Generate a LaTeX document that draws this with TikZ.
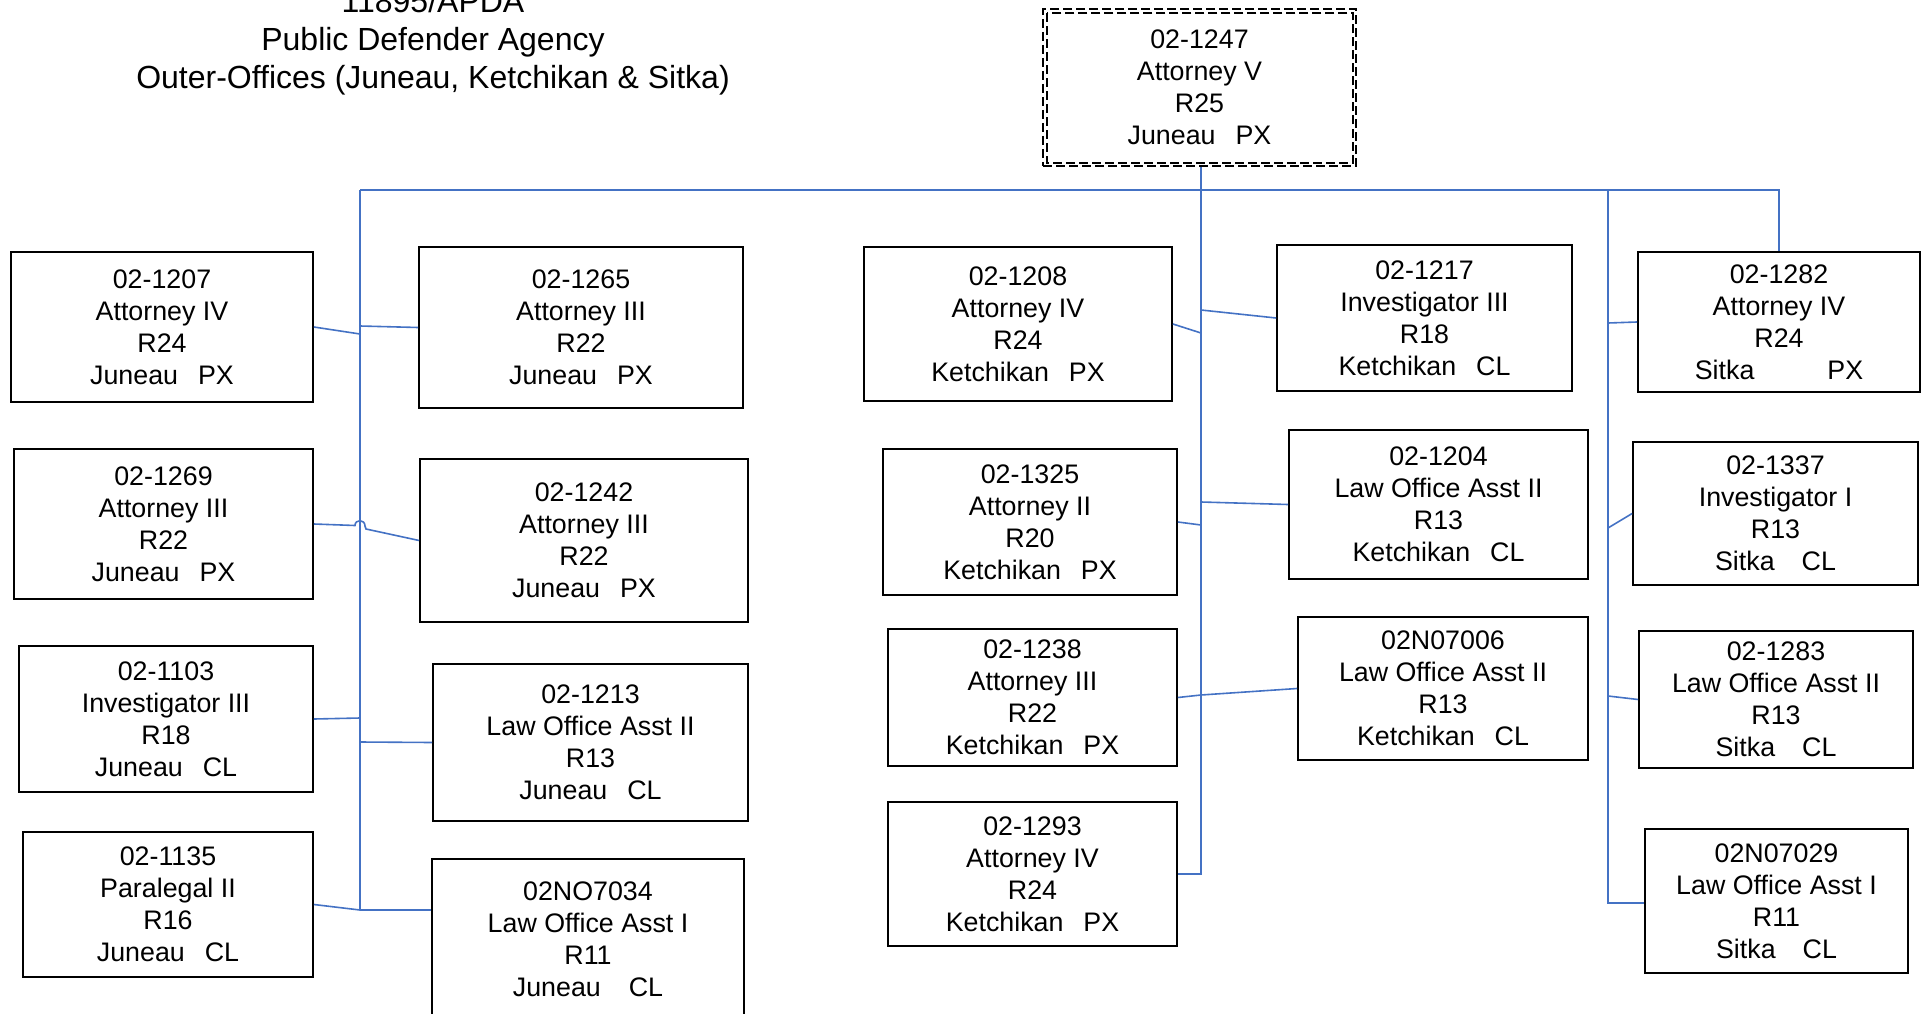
\documentclass[tikz,border=0pt]{standalone}
\usepackage{fontspec}
\setmainfont{Liberation Sans}
\definecolor{connblue}{HTML}{4472C4}
\tikzset{
  box/.style={draw=black, line width=1.8pt, inner sep=0pt, align=center, font=\fontsize{26.8}{32}\selectfont},
  topbox/.style={draw=black, dash pattern=on 9pt off 4pt, line width=1.8pt, inner sep=0pt, align=center, font=\fontsize{26.8}{32}\selectfont},
  conn/.style={draw=connblue, line width=1.6pt},
  ttl/.style={anchor=base, inner sep=0pt, font=\fontsize{32}{38}\selectfont}
}
\newcommand\gp{\hspace{20pt}}
\begin{document}
\begin{tikzpicture}[x=1pt,y=-1pt]
\useasboundingbox (0,0) rectangle (1927,1014);
\begin{scope}
\clip (0,0) rectangle (1927,1014);
% title
\node[ttl] (t1) at (433,13) {11895/APDA};
\node[ttl] (t2) at (433,51) {Public Defender Agency};
\node[ttl] (t3) at (433,89) {Outer-Offices (Juneau, Ketchikan \& Sitka)};
% top box
\node[topbox, minimum width=313pt, minimum height=157pt] (top) at (1199.5,87.5) {02-1247\\Attorney V\\R25\\Juneau\gp PX};
\draw[black, dash pattern=on 9pt off 4pt, line width=1.8pt] ([shift={(5,5)}]top.north west) rectangle ([shift={(-4,-4)}]top.south east);
% left column
\node[box, minimum width=302pt, minimum height=150pt] (n1207) at (162,327) {02-1207\\Attorney IV\\R24\\Juneau\gp PX};
\node[box, minimum width=324pt, minimum height=161pt] (n1265) at (581,327.5) {02-1265\\Attorney III\\R22\\Juneau\gp PX};
\node[box, minimum width=299pt, minimum height=150pt] (n1269) at (163.5,524) {02-1269\\Attorney III\\R22\\Juneau\gp PX};
\node[box, minimum width=328pt, minimum height=163pt] (n1242) at (584,540.5) {02-1242\\Attorney III\\R22\\Juneau\gp PX};
\node[box, minimum width=294pt, minimum height=146pt] (n1103) at (166,719) {02-1103\\Investigator III\\R18\\Juneau\gp CL};
\node[box, minimum width=315pt, minimum height=157pt] (n1213) at (590.5,742.5) {02-1213\\Law Office Asst II\\R13\\Juneau\gp CL};
\node[box, minimum width=290pt, minimum height=145pt] (n1135) at (168,904.5) {02-1135\\Paralegal II\\R16\\Juneau\gp CL};
\node[box, minimum width=312pt, minimum height=161pt] (n7034) at (588,939.5) {02NO7034\\Law Office Asst I\\R11\\Juneau\hspace{28pt}CL};
% middle column
\node[box, minimum width=308pt, minimum height=154pt] (n1208) at (1018,324) {02-1208\\Attorney IV\\R24\\Ketchikan\gp PX};
\node[box, minimum width=295pt, minimum height=146pt] (n1217) at (1424.5,318) {02-1217\\Investigator III\\R18\\Ketchikan\gp CL};
\node[box, minimum width=294pt, minimum height=146pt] (n1325) at (1030,522) {02-1325\\Attorney II\\R20\\Ketchikan\gp PX};
\node[box, minimum width=299pt, minimum height=149pt] (n1204) at (1438.5,504.5) {02-1204\\Law Office Asst II\\R13\\Ketchikan\gp CL};
\node[box, minimum width=289pt, minimum height=137pt] (n1238) at (1032.5,697.5) {02-1238\\Attorney III\\R22\\Ketchikan\gp PX};
\node[box, minimum width=290pt, minimum height=143pt] (n7006) at (1443,688.5) {02N07006\\Law Office Asst II\\R13\\Ketchikan\gp CL};
\node[box, minimum width=289pt, minimum height=144pt] (n1293) at (1032.5,874) {02-1293\\Attorney IV\\R24\\Ketchikan\gp PX};
% right column
\node[box, minimum width=282pt, minimum height=140pt] (n1282) at (1779,322) {02-1282\\Attorney IV\\R24\\Sitka\hspace{73pt}PX};
\node[box, minimum width=285pt, minimum height=143pt] (n1337) at (1775.5,513.5) {02-1337\\Investigator I\\R13\\Sitka\hspace{27pt}CL};
\node[box, minimum width=274pt, minimum height=137pt] (n1283) at (1776,699.5) {02-1283\\Law Office Asst II\\R13\\Sitka\hspace{27pt}CL};
\node[box, minimum width=263pt, minimum height=144pt] (n7029) at (1776.5,901) {02N07029\\Law Office Asst I\\R11\\Sitka\hspace{27pt}CL};
% bus and trunks
\coordinate (busL) at (360,190);
\coordinate (busM) at (1201,190);
\coordinate (busS) at (1608,190);
\coordinate (busR) at (1779,190);
\coordinate (endL) at (360,910);
\coordinate (endM) at (1201,874);
\coordinate (endS) at (1608,903);
\draw[conn] (top.south -| busM) -- (busM);
\draw[conn] (busL) -- (busR) -- (n1282.north);
\draw[conn] (busL) -- (endL);
\draw[conn] (busM) -- (endM) -- (n1293.east);
\draw[conn] (busS) -- (endS) -- (endS -| n7029.west);
% left branches
\draw[conn] (n1207.east) -- (360,334);
\draw[conn] (360,326) -- (n1265.west);
\draw[conn] (n1269.east) -- (355,525.5) .. controls (355,519) and (365,519) .. (365,526) -- (366,529) -- (n1242.west);
\draw[conn] (n1103.east) -- (360,718);
\draw[conn] (360,742) -- (n1213.west);
\draw[conn] (n1135.east) -- (endL);
\draw[conn] (endL) -- (endL -| n7034.west);
% middle branches
\draw[conn] (n1208.east) -- (1201,333);
\draw[conn] (1201,310) -- (n1217.west);
\draw[conn] (n1325.east) -- (1201,525);
\draw[conn] (1201,502) -- (n1204.west);
\draw[conn] (n1238.east) -- (1201,695) -- (n7006.west);
% right branches
\draw[conn] (1608,323) -- (n1282.west);
\draw[conn] (1608,528) -- (n1337.west);
\draw[conn] (1608,696) -- (n1283.west);
\end{scope}
\end{tikzpicture}
\end{document}
